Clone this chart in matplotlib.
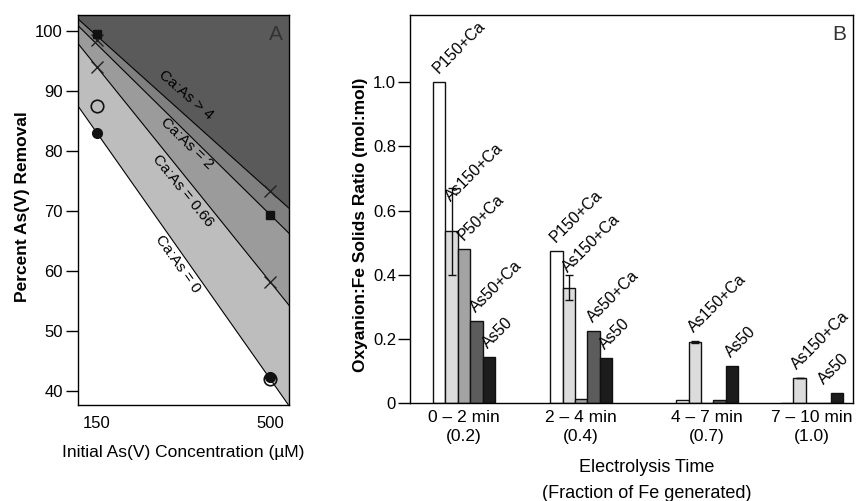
import matplotlib
matplotlib.use("Agg")

import matplotlib.pyplot as plt
import numpy as np

plt.rcParams["font.family"] = ["Liberation Sans", "DejaVu Sans"]

# ---- Panel A data: % As(V) removal vs initial concentration ----
conc = [150, 500]
# boundary lines of the Ca:As regions (value at 150 and 500 uM)
bound_gt4 = [99.2, 73.3]
bound_2 = [97.8, 69.4]
bound_066 = [94.0, 58.2]
bound_0 = [83.0, 42.0]

x_conc = [150, 150, 500, 500]
x_pct = [98.6, 94.0, 73.3, 58.2]
sq_pct = [99.5, 69.4]
open_pct = [87.5, 42.0]
filled_pct = [83.0, 42.3]

# ---- Panel B data: oxyanion:Fe solids ratio per electrolysis interval ----
intervals = ["0 \u2013 2 min\n(0.2)", "2 \u2013 4 min\n(0.4)",
             "4 \u2013 7 min\n(0.7)", "7 \u2013 10 min\n(1.0)"]
series = ["P150+Ca", "As150+Ca", "P50+Ca", "As50+Ca", "As50"]
p150_ca = [1.0, 0.474, 0.01, 0.0]
as150_ca = [0.535, 0.36, 0.19, 0.078]
as150_ca_err = [0.135, 0.04, 0.004, 0.0]
p50_ca = [0.48, 0.012, 0.0, 0.0]
as50_ca = [0.256, 0.224, 0.01, 0.0]
as50 = [0.144, 0.139, 0.115, 0.032]

BAR_COLORS = ["white", "#dcdcdc", "#a3a3a3", "#5c5c5c", "#1c1c1c"]
BAND_COLORS = ["#5a5a5a", "#808080", "#9b9b9b", "#bdbdbd"]

fig = plt.figure(figsize=(8.6, 5.01), dpi=100)

# ================= Panel A =================
axA = fig.add_axes([0.0907, 0.1916, 0.2453, 0.7784])
xlim = (111.5, 538.5)
ylim = (37.6, 102.7)
xx = np.array(xlim)


def extend(vals):
    k, b = np.polyfit(conc, vals, 1)
    return k * xx + b


lines = [extend(v) for v in (bound_gt4, bound_2, bound_066, bound_0)]
top = np.full(2, 200.0)
uppers = [top] + lines[:-1]
for up, lo, col in zip(uppers, lines, BAND_COLORS):
    axA.fill_between(xx, lo, up, color=col, lw=0, zorder=1)
for ln in lines:
    axA.plot(xx, ln, color="black", lw=0.8, zorder=2)

axA.plot(x_conc, x_pct, ls="none", marker="x", ms=8, mew=1.0,
         color="#222222", zorder=4)
axA.plot(conc, sq_pct, ls="none", marker="s", ms=6, color="#111111", zorder=5)
axA.plot(conc, filled_pct, ls="none", marker="o", ms=7, color="#111111", zorder=4)
axA.plot(conc, open_pct, ls="none", marker="o", ms=9, mfc="none", mew=1.2,
         mec="#111111", zorder=5)

axA.text(330, 89.4, "Ca:As > 4", rotation=-41, ha="center", va="center",
         rotation_mode="anchor", fontsize=11, zorder=6)
axA.text(332, 81.3, "Ca:As = 2", rotation=-44, ha="center", va="center",
         rotation_mode="anchor", fontsize=11, zorder=6)
axA.text(324, 73.3, "Ca:As = 0.66", rotation=-51, ha="center", va="center",
         rotation_mode="anchor", fontsize=11, zorder=6)
axA.text(314, 61.2, "Ca:As = 0", rotation=-54.5, ha="center", va="center",
         rotation_mode="anchor", fontsize=11, zorder=6)
axA.text(0.97, 0.975, "A", transform=axA.transAxes, ha="right", va="top",
         fontsize=15, color="#333333")

axA.set_xlim(xlim)
axA.set_ylim(ylim)
axA.set_xticks(conc)
axA.set_yticks([40, 50, 60, 70, 80, 90, 100])
axA.tick_params(axis="x", length=0, pad=8, labelsize=12)
axA.tick_params(axis="y", length=9, width=1, pad=2, labelsize=12)
for s in axA.spines.values():
    s.set_linewidth(1.0)
axA.set_xlabel("Initial As(V) Concentration (\u00b5M)", fontsize=12.5, labelpad=10)
fig.text(23 / 860, 1 - 207 / 501, "Percent As(V) Removal", rotation=90,
         ha="center", va="center", fontsize=12.5, fontweight="bold")

# ================= Panel B =================
axB = fig.add_axes([0.4767, 0.1956, 0.5152, 0.7744])
centers = np.array([4.35, 13.8, 23.95, 32.4])
width = 1.0
values = [p150_ca, as150_ca, p50_ca, as50_ca, as50]

bar_labels = []
for i, (name, vals, col) in enumerate(zip(series, values, BAR_COLORS)):
    xs = centers + (i - 2) * width
    axB.bar(xs, vals, width=width, color=col, edgecolor="#111111",
            linewidth=1.0, zorder=2)
    err = as150_ca_err if name == "As150+Ca" else [0.0] * len(vals)
    if name == "As150+Ca":
        axB.errorbar(xs, vals, yerr=err, fmt="none", ecolor="#111111",
                     elinewidth=1.0, capsize=3, capthick=1.0, zorder=3)
    for x, v, e in zip(xs, vals, err):
        if v < 0.02:
            continue
        t = axB.text(x - 0.05, v + e / 2 + 0.025, name, rotation=45, ha="left",
                     va="baseline", rotation_mode="anchor", fontsize=11.5,
                     zorder=4)
        bar_labels.append(t)

axB.text(0.985, 0.975, "B", transform=axB.transAxes, ha="right", va="top",
         fontsize=15, color="#333333")

axB.set_xlim(0, 35.7)
axB.set_ylim(0, 1.21)
axB.set_xticks(centers)
axB.set_xticklabels(intervals, linespacing=1.3)
axB.set_yticks([0, 0.2, 0.4, 0.6, 0.8, 1.0])
axB.set_yticklabels(["0", "0.2", "0.4", "0.6", "0.8", "1.0"])
axB.tick_params(axis="x", length=0, pad=5, labelsize=12.5)
axB.tick_params(axis="y", length=9, width=1, pad=1, labelsize=12)
for s in axB.spines.values():
    s.set_linewidth(1.0)

fig.text(647 / 860, 1 - 467 / 501, "Electrolysis Time", ha="center",
         va="center", fontsize=13)
fig.text(647 / 860, 1 - 493 / 501, "(Fraction of Fe generated)", ha="center",
         va="center", fontsize=13)
fig.text(360 / 860, 1 - 225 / 501, "Oxyanion:Fe Solids Ratio (mol:mol)",
         rotation=90, ha="center", va="center", fontsize=12.5,
         fontweight="bold")

# nudge bar labels that would run past the right edge of the figure
fig.canvas.draw()
renderer = fig.canvas.get_renderer()
fig_w = fig.bbox.width
for t in bar_labels:
    bb = t.get_window_extent(renderer)
    excess = bb.x1 - (fig_w - 8)
    if excess > 0:
        x, y = t.get_position()
        dx = axB.transData.inverted().transform((excess, 0))[0] - \
            axB.transData.inverted().transform((0, 0))[0]
        t.set_position((x - dx, y))

fig.savefig("out.png", dpi=100, facecolor="white")
